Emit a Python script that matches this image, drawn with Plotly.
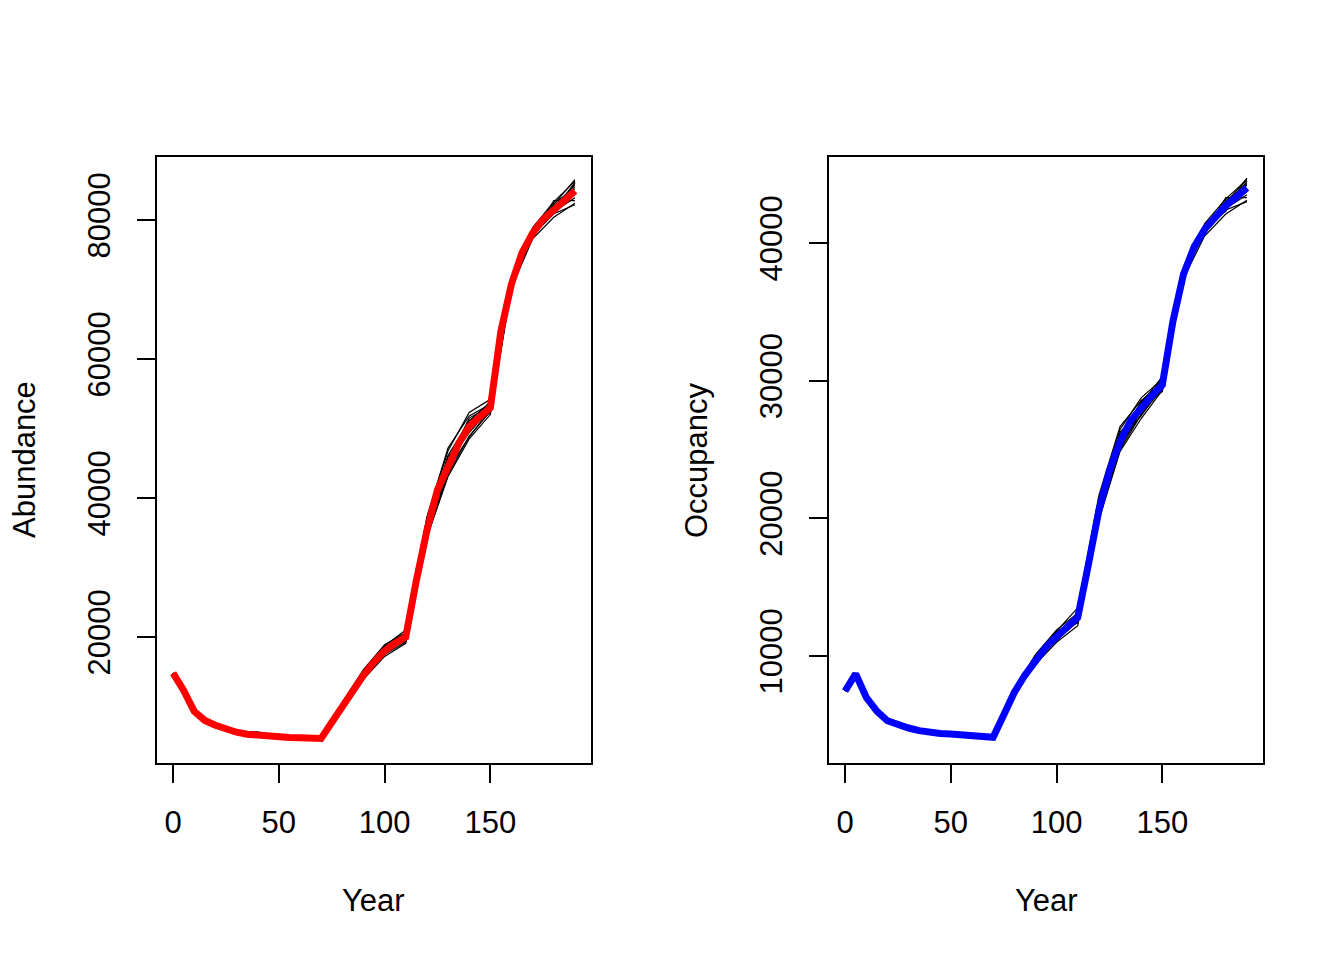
import plotly.graph_objects as go

# mean trajectories, every 5 years
years = list(range(0, 195, 5))
abundance = [14800, 12300, 9300, 8000, 7300, 6700, 6300, 6000, 5850, 5700,
             5600, 5550, 5500, 5480, 5400, 7700, 10100, 12400, 14500, 16400,
             18000, 19100, 20000, 28100, 35300, 41150, 44600, 47800, 50300, 51700,
             53000, 64000, 70800, 75300, 78100, 80100, 81600, 82800, 84200]
occupancy = [7460, 8700, 7000, 6000, 5300, 5000, 4770, 4580, 4420, 4370,
             4330, 4260, 4190, 4150, 4100, 5720, 7350, 8600, 9700, 10650,
             11400, 12100, 12800, 16600, 20560, 23470, 25560, 27100, 28050, 28900,
             29700, 34300, 37730, 39700, 41000, 41900, 42700, 43340, 44000]

# replicate runs as deviations from the mean
rep_years = [0, 5, 10, 20, 30, 40, 50, 60, 70, 80, 90, 100, 110, 120, 130, 140, 150,
             160, 170, 180, 190]
abund_dev = [
    [0, 0, 0, 100, 150, 500, 100, 50, 0, 500, 800, 900, 600, 1800, 2200, 2000, 1200, 600, 800, 1000, 1400],
    [0, 0, 0, -100, -200, -250, -150, -100, 0, -400, -600, -800, -900, -1000, -1500, -1800, -1000, -600, -800, -1200, -1800],
    [0, 0, 0, 50, 100, 150, 50, 0, 0, 300, 600, 700, 1000, 2000, 2600, 1500, 500, 300, 500, 600, 1600],
    [0, 0, 0, -50, -100, -150, -100, -50, 0, -200, -400, -500, -700, -900, -1200, -1400, -600, -400, -300, -700, -2000],
    [0, 0, 0, 0, 50, 50, 0, 0, 0, 100, 300, 500, -200, 1200, 1500, 800, 800, 700, 400, 300, 900],
    [0, 0, 0, 100, -100, 0, 100, 50, 0, -200, 300, -300, 300, -300, -500, -1500, -300, 100, -200, 200, 600],
    [0, 0, 0, -100, 0, -150, -50, -100, 0, 0, -100, 400, -300, 800, 600, 1200, 200, -300, 600, -400, -1000],
    [0, 0, 0, 50, 0, 100, 50, 0, 0, 100, 0, -200, 600, -500, -1200, 300, -800, 200, -500, 800, 300],
    [0, 0, 0, -50, 50, -50, 0, 50, 0, 400, -300, 100, -400, 1000, 1300, -600, 900, -200, 300, -600, 1100],
    [0, 0, 0, 0, -50, 150, -50, 0, 0, -100, 500, -300, 100, -800, -300, 900, -400, 400, -700, 500, -400],
    [0, 0, 0, 100, 50, -100, 50, -50, 0, 300, -200, 600, -600, 200, -700, -300, 1000, -500, 200, -300, 1200],
    [0, 0, 0, -50, -100, 50, -50, 0, 0, -200, 100, -400, 400, -400, 500, -900, -200, 500, -400, 1200, -1400],
]
occ_dev = [
    [0, 0, 0, 80, 100, 150, 50, 0, 0, 250, 400, 500, 300, 800, 900, 700, 400, 300, 400, 500, 600],
    [0, 0, 0, -80, -120, -100, -100, -50, 0, -200, -300, -400, -600, -700, -700, -800, -400, -300, -500, -600, -900],
    [0, 0, 0, 50, 50, 100, 80, 50, 0, 150, 300, 400, 700, 1100, 1100, 500, 200, 500, 300, 200, 700],
    [0, 0, 0, -50, -60, -80, -40, -60, 0, -100, -150, -250, -300, -500, -600, -500, -300, -100, -200, -300, -1000],
    [0, 0, 0, 0, 30, 20, 0, 0, 0, 50, 200, 300, -200, 500, 600, 300, 600, 400, 200, 100, 400],
    [0, 0, 0, 60, -50, 0, 60, 30, 0, -150, 100, -200, 200, -200, -300, -500, -200, 100, -100, 300, 300],
    [0, 0, 0, -60, 0, -80, -30, -50, 0, 0, -50, 200, -100, 500, 300, 400, 100, -200, 300, -200, -500],
    [0, 0, 0, 30, 0, 60, 30, 0, 0, 80, 0, -150, 400, -300, -600, 200, -500, 100, -300, 400, 200],
    [0, 0, 0, -30, 40, -40, 0, 40, 0, 200, -200, 100, -300, 700, 700, -300, 500, -100, 200, -400, 500],
    [0, 0, 0, 0, -40, 90, -40, 0, 0, -80, 300, -250, 100, -500, -200, 500, -300, 250, -400, 300, -300],
    [0, 0, 0, 70, 30, -60, 40, -30, 0, 200, -150, 400, -400, 100, -400, -200, 600, -300, 100, -200, 700],
    [0, 0, 0, -40, -70, 40, -30, 0, 0, -150, 80, -300, 300, -300, 300, -600, -100, 300, -250, 600, -700],
]

x_ticks = [0, 50, 100, 150]
abund_ticks = [20000, 40000, 60000, 80000]
occ_ticks = [10000, 20000, 30000, 40000]

FONT = "Liberation Sans, Arial, sans-serif"
W, H = 1344, 960
OFF = 8  # page body margin


def px_x(p):
    return (p - OFF) / W


def px_y(p):
    return 1 - (p - OFF) / H


rep_idx = [years.index(y) for y in rep_years]

fig = go.Figure()

for dev in abund_dev:
    fig.add_trace(go.Scatter(x=rep_years, y=[abundance[i] + d for i, d in zip(rep_idx, dev)],
                             mode='lines', line=dict(color='black', width=1.2),
                             xaxis='x', yaxis='y', showlegend=False))
fig.add_trace(go.Scatter(x=years, y=abundance, mode='lines',
                         line=dict(color='#ff0000', width=7),
                         xaxis='x', yaxis='y', showlegend=False))

for dev in occ_dev:
    fig.add_trace(go.Scatter(x=rep_years, y=[occupancy[i] + d for i, d in zip(rep_idx, dev)],
                             mode='lines', line=dict(color='black', width=1.2),
                             xaxis='x2', yaxis='y2', showlegend=False))
fig.add_trace(go.Scatter(x=years, y=occupancy, mode='lines',
                         line=dict(color='#0000ff', width=7),
                         xaxis='x2', yaxis='y2', showlegend=False))

axis_style = dict(showgrid=False, zeroline=False, showline=True, mirror=True,
                  linecolor='black', linewidth=2, ticks='outside', ticklen=18,
                  tickwidth=2, tickcolor='black', tickformat='d',
                  tickfont=dict(family=FONT, size=31, color='black'))

top, bottom = px_y(157), px_y(763)
fig.update_layout(
    width=W, height=H,
    margin=dict(l=0, r=0, t=0, b=0),
    paper_bgcolor='white', plot_bgcolor='white',
    xaxis=dict(axis_style, domain=[px_x(157), px_x(591)], range=[-7.6, 197.6],
               tickvals=x_ticks, anchor='y', ticklabelstandoff=13),
    yaxis=dict(axis_style, domain=[bottom, top], range=[1871, 89065],
               tickvals=abund_ticks, tickangle=-90, anchor='x', ticklabelstandoff=15),
    xaxis2=dict(axis_style, domain=[px_x(829), px_x(1263)], range=[-7.6, 197.6],
                tickvals=x_ticks, anchor='y2', ticklabelstandoff=13),
    yaxis2=dict(axis_style, domain=[bottom, top], range=[2229, 46245],
                tickvals=occ_ticks, tickangle=-90, anchor='x2', ticklabelstandoff=15),
)

label_font = dict(family=FONT, size=31, color='black')
for text, xp, yp, ang in [("Year", 374, 900, 0), ("Year", 1046, 900, 0),
                          ("Abundance", 24, 460, -90), ("Occupancy", 696, 460, -90)]:
    fig.add_annotation(text=text, x=px_x(xp), y=px_y(yp), xref='paper', yref='paper',
                       showarrow=False, textangle=ang, font=label_font,
                       xanchor='center', yanchor='middle')

fig.write_html("out.html")
